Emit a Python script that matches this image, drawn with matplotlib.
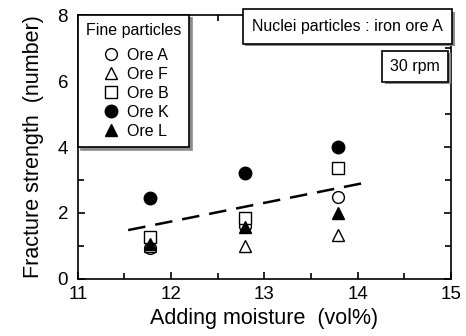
import matplotlib
matplotlib.use("Agg")
import matplotlib.pyplot as plt
import matplotlib.patheffects as pe
from matplotlib.ticker import MultipleLocator

plt.rcParams['font.family'] = ['Liberation Sans', 'DejaVu Sans']

moisture = [11.77, 12.79, 13.79]
ore_a = [0.95, 1.6, 2.47]
ore_f = [1.0, 1.0, 1.33]
ore_b = [1.26, 1.85, 3.36]
ore_k = [2.46, 3.21, 4.0]
ore_l = [1.05, 1.58, 2.0]
trend_x = [11.54, 14.12]
trend_y = [1.48, 2.94]

fig = plt.figure(figsize=(4.66, 3.36), dpi=100)
ax = fig.add_axes([0.167, 0.17, 0.801, 0.785])

ms = 8.5
ax.plot(trend_x, trend_y, color='black', lw=1.8, dashes=(7, 4), zorder=1)
ax.plot(moisture, ore_a, 'o', mfc='white', mec='black', ms=ms, mew=1, label='Ore A', ls='none')
ax.plot(moisture, ore_f, '^', mfc='white', mec='black', ms=ms, mew=1, label='Ore F', ls='none')
ax.plot(moisture, ore_b, 's', mfc='white', mec='black', ms=ms, mew=1, label='Ore B', ls='none')
ax.plot(moisture, ore_k, 'o', mfc='black', mec='black', ms=ms + 0.5, label='Ore K', ls='none')
ax.plot(moisture, ore_l, '^', mfc='black', mec='black', ms=ms, label='Ore L', ls='none')

ax.set_xlim(11, 15)
ax.set_ylim(0, 8)
ax.xaxis.set_major_locator(MultipleLocator(1))
ax.xaxis.set_minor_locator(MultipleLocator(0.5))
ax.yaxis.set_major_locator(MultipleLocator(2))
ax.yaxis.set_minor_locator(MultipleLocator(1))
ax.tick_params(which='both', direction='in', top=True, right=True, labelsize=13.5, width=1.2)
ax.tick_params(which='major', length=5)
ax.tick_params(which='minor', length=4)
ax.tick_params(axis='x', pad=5)
ax.tick_params(axis='y', pad=7)
for s in ax.spines.values():
    s.set_linewidth(1.2)

ax.set_xlabel('Adding moisture  (vol%)', fontsize=15.5, labelpad=4)
ax.set_ylabel('Fracture strength  (number)', fontsize=15.5, labelpad=10)

leg = ax.legend(title='Fine particles', loc='upper left', bbox_to_anchor=(0, 1),
                borderaxespad=0, fancybox=False, edgecolor='black', framealpha=1,
                fontsize=11.5, title_fontsize=11.5, handletextpad=0.2, handlelength=1.6,
                labelspacing=0.25, borderpad=0.5, shadow={'color': '0.55', 'alpha': 1})
leg.get_frame().set_linewidth(1.2)
leg._legend_box.sep = 7

shadow = [pe.SimplePatchShadow(offset=(2, -2), shadow_rgbFace='0.55', alpha=1), pe.Normal()]
t1 = ax.text(0.978, 0.985, 'Nuclei particles : iron ore A', transform=ax.transAxes,
             ha='right', va='top', fontsize=11.5,
             bbox=dict(boxstyle='square,pad=0.6', fc='white', ec='black', lw=1.2))
t1.get_bbox_patch().set_path_effects(shadow)
t2 = ax.text(0.97, 0.835, '30 rpm', transform=ax.transAxes,
             ha='right', va='top', fontsize=11.5,
             bbox=dict(boxstyle='square,pad=0.5', fc='white', ec='black', lw=1.2))
t2.get_bbox_patch().set_path_effects(shadow)

fig.savefig('out.png', dpi=100)
